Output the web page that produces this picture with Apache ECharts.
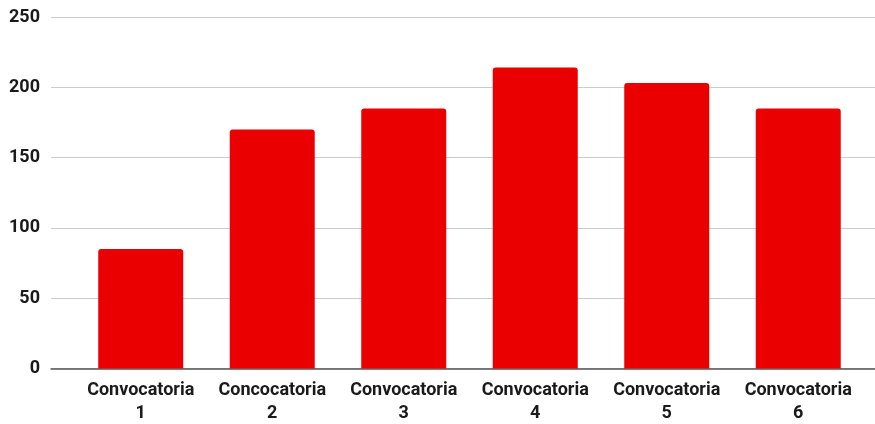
<!DOCTYPE html>
<html><head><meta charset="utf-8">
<script src="https://cdn.jsdelivr.net/npm/echarts@6/dist/echarts.min.js"></script>
<style>html,body{margin:0;padding:0;background:#fff}#c{width:875px;height:424px}</style>
</head><body><div id="c"></div>
<script>
const categories = ['Convocatoria\n1','Concocatoria\n2','Convocatoria\n3','Convocatoria\n4','Convocatoria\n5','Convocatoria\n6'];
const values = [85, 170, 185, 214, 203, 185];
const yTicks = [0, 50, 100, 150, 200, 250];

const chart = echarts.init(document.getElementById('c'));
const font = 'Roboto, "Liberation Sans", Arial, sans-serif';
chart.setOption({
  animation: false,
  grid: [
    {left: 51, right: 0, top: 17, bottom: 55.5, outerBoundsMode: 'none', containLabel: false},
    {left: 75, right: 11, top: 17, bottom: 55.5, outerBoundsMode: 'none', containLabel: false}
  ],
  xAxis: [
    {gridIndex: 0, type: 'value', min: 0, max: 1, axisLine: {show: true, onZero: false, lineStyle: {color: '#555', width: 1.5}},
     axisTick: {show: false}, axisLabel: {show: false}, splitLine: {show: false}},
    {gridIndex: 1, type: 'category', data: categories, axisLine: {show: false}, axisTick: {show: false},
     axisLabel: {color: '#1a1a1a', fontFamily: font, fontWeight: 'bold', fontSize: 18, lineHeight: 23, margin: 10, interval: 0}}
  ],
  yAxis: [
    {gridIndex: 0, type: 'value', min: yTicks[0], max: yTicks[yTicks.length-1], interval: 50,
     axisLine: {show: false}, axisTick: {show: false},
     axisLabel: {color: '#1a1a1a', fontFamily: font, fontWeight: 'bold', fontSize: 18, margin: 11},
     splitLine: {lineStyle: {color: '#cccccc', width: 1}}},
    {gridIndex: 1, type: 'value', min: yTicks[0], max: yTicks[yTicks.length-1], interval: 50, show: false}
  ],
  series: [{
    type: 'bar', xAxisIndex: 1, yAxisIndex: 1, data: values, barWidth: 85,
    itemStyle: {color: '#ea0000', borderRadius: [3,3,0,0]}
  }]
});
</script></body></html>
